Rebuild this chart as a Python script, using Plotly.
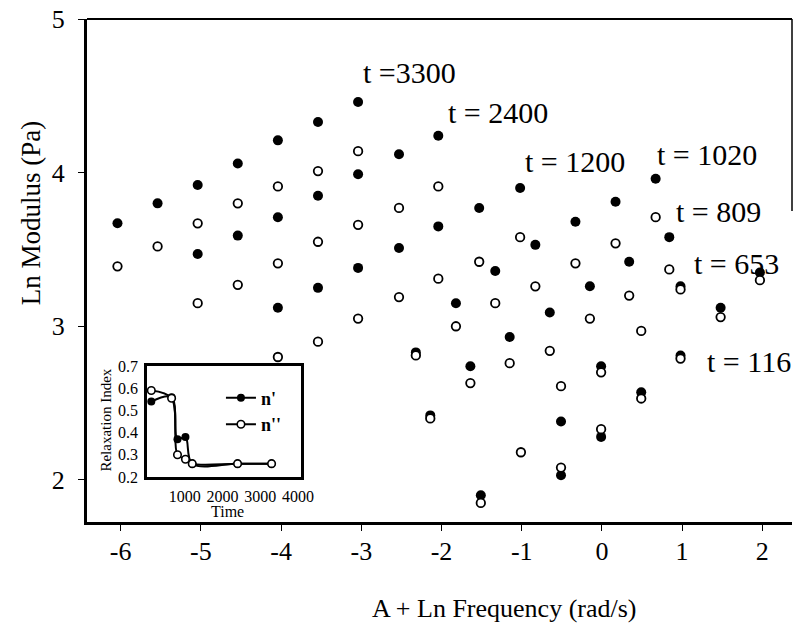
import plotly.graph_objects as go

# ---- main chart data: A + Ln Frequency vs Ln Modulus ----
x_3300 = [-6.04, -5.54, -5.04, -4.54, -4.04, -3.54, -3.04]
gp_3300 = [3.67, 3.80, 3.92, 4.06, 4.21, 4.33, 4.46]
gpp_3300 = [3.39, 3.52, 3.67, 3.80, 3.91, 4.01, 4.14]

x_2400 = [-5.04, -4.54, -4.04, -3.54, -3.04, -2.53, -2.04]
gp_2400 = [3.47, 3.59, 3.71, 3.85, 3.99, 4.12, 4.24]
gpp_2400 = [3.15, 3.27, 3.41, 3.55, 3.66, 3.77, 3.91]

x_1200 = [-4.04, -3.54, -3.04, -2.53, -2.04, -1.53, -1.02]
gp_1200 = [3.12, 3.25, 3.38, 3.51, 3.65, 3.77, 3.90]
gpp_1200 = [2.80, 2.90, 3.05, 3.19, 3.31, 3.42, 3.58]

x_1020 = [-2.32, -1.82, -1.33, -0.83, -0.33, 0.17, 0.67]
gp_1020 = [2.83, 3.15, 3.36, 3.53, 3.68, 3.81, 3.96]
gpp_1020 = [2.81, 3.00, 3.15, 3.26, 3.41, 3.54, 3.71]

x_809 = [-2.14, -1.64, -1.15, -0.65, -0.15, 0.34, 0.84]
gp_809 = [2.42, 2.74, 2.93, 3.09, 3.26, 3.42, 3.58]
gpp_809 = [2.40, 2.63, 2.76, 2.84, 3.05, 3.20, 3.37]

x_653 = [-0.51, -0.01, 0.49, 0.98, 1.48, 1.97]
gp_653 = [2.03, 2.28, 2.57, 2.81, 3.12, 3.35]
gpp_653 = [2.08, 2.33, 2.53, 2.79, 3.06, 3.30]

x_116 = [-1.51, -1.01, -0.51, -0.01, 0.49, 0.98]
gp_116 = [1.90, None, 2.38, 2.74, None, 3.26]
gpp_116 = [1.85, 2.18, 2.61, 2.70, 2.97, 3.24]

series_x = [x_3300, x_2400, x_1200, x_1020, x_809, x_653, x_116]
series_gp = [gp_3300, gp_2400, gp_1200, gp_1020, gp_809, gp_653, gp_116]
series_gpp = [gpp_3300, gpp_2400, gpp_1200, gpp_1020, gpp_809, gpp_653, gpp_116]

label_texts = ["t =3300", "t = 2400", "t = 1200", "t = 1020", "t = 809", "t = 653", "t = 116"]

x_ticks = [-6, -5, -4, -3, -2, -1, 0, 1, 2]
y_ticks = [2, 3, 4, 5]

# ---- inset data: relaxation index vs time ----
inset_time = [116, 653, 809, 1020, 1200, 2400, 3300]
n_prime = [0.54, 0.56, 0.37, 0.38, 0.26, 0.26, 0.26]
n_dprime = [0.59, 0.555, 0.30, 0.28, 0.26, 0.26, 0.26]
inset_xticks = [1000, 2000, 3000, 4000]
inset_yticks = [0.2, 0.3, 0.4, 0.5, 0.6, 0.7]

FONT = "Liberation Serif"

fig = go.Figure()

for xs, ys in zip(series_x, series_gp):
    fig.add_trace(go.Scatter(x=xs, y=ys, mode="markers", showlegend=False,
                             marker=dict(symbol="circle", size=10, color="black"),
                             xaxis="x", yaxis="y"))
for xs, ys in zip(series_x, series_gpp):
    fig.add_trace(go.Scatter(x=xs, y=ys, mode="markers", showlegend=False,
                             marker=dict(symbol="circle", size=8.5, color="white",
                                         line=dict(color="black", width=1.8)),
                             xaxis="x", yaxis="y"))

fig.add_trace(go.Scatter(x=inset_time, y=n_prime, mode="lines+markers", name="n'",
                         line=dict(color="black", width=2, shape="spline", smoothing=1.0),
                         marker=dict(symbol="circle", size=8, color="black"),
                         xaxis="x2", yaxis="y2"))
fig.add_trace(go.Scatter(x=inset_time, y=n_dprime, mode="lines+markers", name="n''",
                         line=dict(color="black", width=2, shape="spline", smoothing=1.0),
                         marker=dict(symbol="circle", size=7.5, color="white",
                                     line=dict(color="black", width=1.6)),
                         xaxis="x2", yaxis="y2"))

# label positions (data coords, left anchored)
label_pos = [(-3.01, 4.65), (-1.94, 4.39), (-0.98, 4.07), (0.66, 4.12),
             (0.90, 3.75), (1.12, 3.41), (1.28, 2.77)]
annotations = []
for txt, (ax_, ay_) in zip(label_texts, label_pos):
    annotations.append(dict(x=ax_, y=ay_, xref="x", yref="y", text=txt, showarrow=False,
                            xanchor="left", yanchor="middle",
                            font=dict(family=FONT, size=30, color="black")))

annotations += [
    dict(x=0.592, y=-0.171, xref="paper", yref="paper", text="A + Ln Frequency (rad/s)",
         showarrow=False, xanchor="center", yanchor="middle",
         font=dict(family=FONT, size=26, color="black")),
    dict(x=-0.0794, y=0.614, xref="paper", yref="paper", text="Ln Modulus (Pa)",
         showarrow=False, xanchor="center", yanchor="middle", textangle=-90,
         font=dict(family=FONT, size=27, color="black")),
    dict(x=0.0265, y=0.203, xref="paper", yref="paper", text="Relaxation Index",
         showarrow=False, xanchor="center", yanchor="middle", textangle=-90,
         font=dict(family=FONT, size=15, color="black")),
    dict(x=0.199, y=0.0199, xref="paper", yref="paper", text="Time",
         showarrow=False, xanchor="center", yanchor="middle",
         font=dict(family=FONT, size=16, color="black")),
]

fig.update_layout(
    width=806, height=632,
    margin=dict(l=87, r=1, t=19, b=110),
    paper_bgcolor="white", plot_bgcolor="white",
    font=dict(family=FONT, color="black"),
    xaxis=dict(range=[-6.42, 2.37], tickvals=x_ticks, ticktext=[str(v) for v in x_ticks],
               showgrid=False, zeroline=False, showline=True, linecolor="black", linewidth=3,
               ticks="outside", ticklen=6, tickwidth=1, tickcolor="black",
               tickfont=dict(family=FONT, size=26), ticklabelstandoff=-2),
    yaxis=dict(range=[1.726, 5.0], tickvals=y_ticks, showgrid=False, zeroline=False,
               showline=True, linecolor="black", linewidth=3,
               ticks="outside", ticklen=6, tickwidth=1, tickcolor="black",
               tickfont=dict(family=FONT, size=26), ticklabelstandoff=8),
    xaxis2=dict(domain=[0.085, 0.3036], anchor="y2", range=[0, 4080], tickvals=inset_xticks,
                showgrid=False, zeroline=False, showline=True, mirror=True,
                linecolor="black", linewidth=2.5, ticks="",
                tickfont=dict(family=FONT, size=16), ticklabelstandoff=3),
    yaxis2=dict(domain=[0.0895, 0.310], anchor="x2", range=[0.2, 0.7], tickvals=inset_yticks,
                tickformat=".1f", showgrid=False, zeroline=False, showline=True, mirror=True,
                linecolor="black", linewidth=2.5, ticks="",
                tickfont=dict(family=FONT, size=16), ticklabelstandoff=3),
    legend=dict(x=0.19, y=0.283, xanchor="left", yanchor="top", bgcolor="rgba(0,0,0,0)",
                font=dict(family=FONT, size=18, weight="bold"), tracegroupgap=0),
    annotations=annotations,
    shapes=[
        dict(type="line", xref="paper", yref="paper", x0=0, x1=1, y0=1, y1=1,
             line=dict(color="black", width=2)),
        dict(type="line", xref="paper", yref="y", x0=1, x1=1, y0=5.0, y1=3.75,
             line=dict(color="black", width=1.5)),
    ],
)

fig.write_html("out.html")
